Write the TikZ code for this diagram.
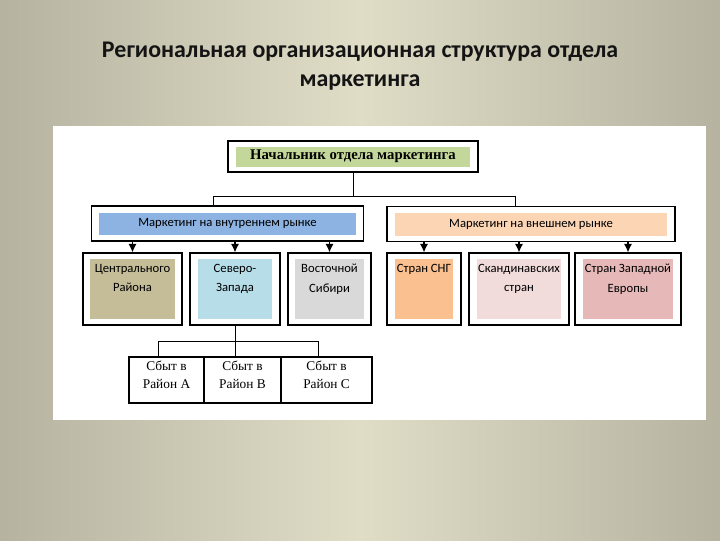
\documentclass[tikz,border=0pt]{standalone}
\usepackage{fontspec}
\setmainfont{Liberation Serif}
\newfontfamily\calfont{Carlito}
\usepackage{xcolor}
\usetikzlibrary{arrows.meta, positioning}

\definecolor{bgin}{HTML}{DFDDC6}
\definecolor{bgout}{HTML}{8C8A7A}
\definecolor{titlegray}{HTML}{141414}
\definecolor{headgreen}{HTML}{C4D79B}
\definecolor{innerblue}{HTML}{8DB3E2}
\definecolor{outerpeach}{HTML}{FCD5B5}
\definecolor{centraltan}{HTML}{C4BD97}
\definecolor{nwblue}{HTML}{B7DEE8}
\definecolor{sibgray}{HTML}{D9D9D9}
\definecolor{cisorange}{HTML}{FAC090}
\definecolor{scandpink}{HTML}{F2DCDB}
\definecolor{eurorose}{HTML}{E6B9B8}

\pgfdeclarehorizontalshading{slidebg}{100bp}{color(0bp)=(bgout); color(50bp)=(bgin); color(100bp)=(bgout)}

\newcommand{\unittext}[2]{\parbox[t][1.25cm][t]{#1}{\centering #2}}
\newcommand{\saletext}[1]{\parbox[t][0.95cm][t]{1.75cm}{\centering #1}}

\begin{document}
\begin{tikzpicture}[
  x=0.025cm, y=-0.025cm,
  tinted/.style={draw=black, line width=0.9pt, inner sep=0pt,
    path picture={\fill[#1]
      ([shift={(0.19cm,0.14cm)}]path picture bounding box.south west) rectangle
      ([shift={(-0.19cm,-0.16cm)}]path picture bounding box.north east);}},
  head/.style={tinted=headgreen, minimum width=6.25cm, minimum height=0.78cm,
    font=\fontsize{10.5}{12}\selectfont\bfseries},
  market/.style={tinted=#1, minimum height=0.87cm,
    font=\calfont\fontsize{9}{11}\selectfont},
  unit/.style={tinted=#1, minimum height=1.8cm,
    font=\calfont\fontsize{9}{14}\selectfont},
  sale/.style={draw=black, line width=0.8pt, minimum height=1.15cm,
    inner sep=0pt, outer sep=0pt, font=\fontsize{9.5}{12.8}\selectfont},
  link/.style={black, line width=0.7pt},
  arr/.style={-{Latex[length=2.1mm, width=2mm]}, black, line width=0.8pt}
]
\shade[shading=slidebg] (0,0) rectangle (720,540);
\useasboundingbox (0,0) rectangle (720,540);
\fill[white] (53,126) rectangle (706,420);

\node[font=\calfont\bfseries\fontsize{17}{20.6}\selectfont, align=center,
  text=titlegray] (title) at (360,66)
  {Региональная организационная структура отдела\\маркетинга};

\node[head] (chief) at (353,156.5) {Начальник отдела маркетинга};
\node[market=innerblue, minimum width=6.78cm] (inner) at (227.5,223.5)
  {Маркетинг на внутреннем рынке};
\node[market=outerpeach, minimum width=7.2cm] (outer) at (531,224)
  {Маркетинг на внешнем рынке};

\node[unit=centraltan, minimum width=2.48cm] (central) at (132.5,289)
  {\unittext{2.1cm}{Центрального\\Района}};
\node[unit=nwblue, minimum width=2.25cm] (northwest) at (235,289)
  {\unittext{1.9cm}{Северо-\\Запада}};
\node[unit=sibgray, minimum width=2.08cm] (eastsib) at (329.5,289)
  {\unittext{1.75cm}{Восточной\\Сибири}};
\node[unit=cisorange, minimum width=1.85cm] (cis) at (424,289)
  {\unittext{1.55cm}{Стран СНГ}};
\node[unit=scandpink, minimum width=2.5cm] (scand) at (519,289)
  {\unittext{2.1cm}{Скандинавских\\стран}};
\node[unit=eurorose, minimum width=2.65cm] (westeu) at (628,289)
  {\unittext{2.3cm}{Стран Западной\\Европы}};

\node[sale, minimum width=1.875cm] (saleA) at (166.5,380)
  {\saletext{Сбыт в\\Район А}};
\node[sale, minimum width=1.925cm, right=0pt of saleA] (saleB)
  {\saletext{Сбыт в\\Район В}};
\node[sale, minimum width=2.275cm, right=0pt of saleB] (saleC)
  {\saletext{Сбыт в\\Район С}};

\draw[link] (chief.south) -- ++(0,24) coordinate (fork);
\draw[link] ([xshift=-0.36cm]inner.north) |- (fork) -| ([xshift=-0.4cm]outer.north);

\draw[arr] (inner.south -| central.north) -- (central.north);
\draw[arr] (inner.south -| northwest.north) -- (northwest.north);
\draw[arr] (inner.south -| eastsib.north) -- (eastsib.north);
\draw[arr] (outer.south -| cis.north) -- (cis.north);
\draw[arr] (outer.south -| scand.north) -- (scand.north);
\draw[arr] (outer.south -| westeu.north) -- (westeu.north);

\draw[link] (northwest.south) -- ++(0,16) coordinate (split);
\draw[link] (split) -- (split |- saleB.north);
\draw[link] ([xshift=-0.19cm]saleA.north) |- (split) -| ([xshift=-0.21cm]saleC.north);
\end{tikzpicture}
\end{document}
